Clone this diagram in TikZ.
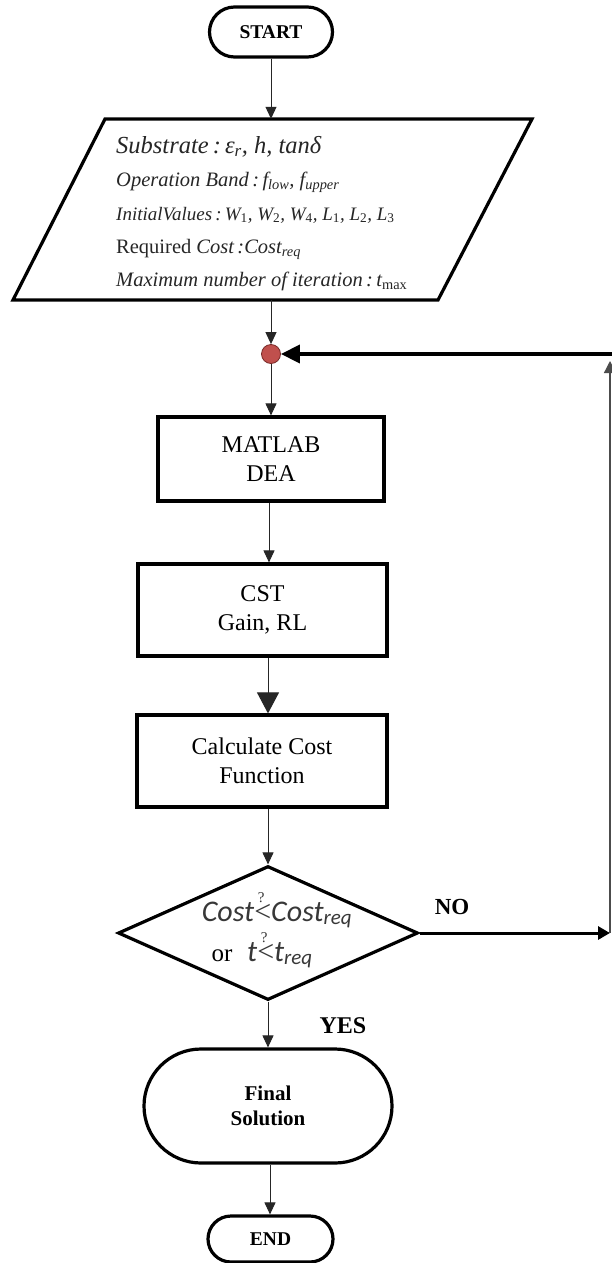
\documentclass[tikz,border=0pt]{standalone}
\usepackage{fontspec}
\setmainfont{Liberation Serif}
\newfontfamily\calib{Carlito}
\usetikzlibrary{arrows.meta,shapes.geometric}
\newcommand\sbs[1]{\textsubscript{#1}}
\newcommand\qlt{\rlap{\raisebox{0.62em}{\hspace{0.12em}\normalfont\fontsize{15}{15}\selectfont ?}}{\normalfont\fontsize{30}{30}\selectfont <}}
\definecolor{dotred}{HTML}{C0504D}
\definecolor{dotedge}{HTML}{7A2B29}
\begin{document}
\begin{tikzpicture}[x=1pt,y=-1pt,
  shapeline/.style={line width=3.2pt},
  procbox/.style={draw, shapeline, rectangle, inner sep=0pt, align=center,
    font=\fontsize{24}{29}\selectfont},
  termbox/.style={draw, shapeline, rectangle, inner sep=0pt, align=center,
    font=\bfseries\fontsize{19.5}{25}\selectfont},
  arr/.style={-{Triangle[length=12pt,width=11pt]}, line width=1pt, draw=black!85},
  bigarr/.style={-{Triangle[length=21pt,width=22pt]}, line width=1pt, draw=black!85},
  intext/.style={anchor=base west, inner sep=0pt, text=black!85,
    font=\itshape\fontsize{20.5}{20.5}\selectfont},
  lbl/.style={font=\bfseries\fontsize{23}{23}\selectfont, inner sep=0pt},
  condtext/.style={inner sep=0pt, text=black!78, font=\calib\itshape\fontsize{30}{30}\selectfont}
]
\useasboundingbox[fill=white] (0,0) rectangle (611,1263);

% terminals and boxes
\node[termbox, minimum width=123pt, minimum height=50pt, rounded corners=25pt] (start) at (271,32) {START};
\node[minimum width=330pt, minimum height=181pt, inner sep=0pt] (input) at (271,209.5) {};
\draw[shapeline, line join=miter] (105,119) -- (532,119) -- (438,300) -- (13,300) -- cycle;
\node[intext, font=\itshape\fontsize{24.5}{24.5}\selectfont] (l1) at (116,153) {Substrate\,:\,ε\sbs{r}, h, tanδ};
\node[intext] (l2) at (116,186) {Operation Band\,:\,f\sbs{low}, f\sbs{upper}};
\node[intext, font=\itshape\fontsize{19}{19}\selectfont] (l3) at (116,220) {InitialValues\,:\,W\sbs{\upshape 1}, W\sbs{\upshape 2}, W\sbs{\upshape 4}, L\sbs{\upshape 1}, L\sbs{\upshape 2}, L\sbs{\upshape 3}};
\node[intext] (l4) at (116,253) {{\upshape Required} Cost\,:Cost\sbs{req}};
\node[intext] (l5) at (116,286) {Maximum number of iteration\,:\,t\sbs{\upshape max}};

\node[circle, fill=dotred, draw=dotedge, line width=0.8pt, minimum size=19pt, inner sep=0pt] (join) at (271,354) {};

\node[procbox, minimum width=226pt, minimum height=84pt] (matlab) at (271,459) {MATLAB\\DEA};
\node[procbox, minimum width=249pt, minimum height=92pt] (cst) at (262.5,610) {CST\\Gain, RL};
\node[procbox, minimum width=250pt, minimum height=92pt] (calc) at (262,761) {Calculate Cost\\Function};

\node[diamond, draw, shapeline, minimum width=300pt, minimum height=134pt, inner sep=0pt] (dec) at (268,933) {};
\node[condtext, anchor=base] (dt1) at (277,921) {Cost\qlt Cost\sbs{req}};
\node[anchor=base, inner sep=0pt, font=\fontsize{25}{25}\selectfont] (dtor) at (222,961) {or};
\node[condtext, anchor=base west] (dt2) at (247,961) {t\qlt t\sbs{req}};

\node[termbox, font=\bfseries\fontsize{21}{25}\selectfont, minimum width=248pt, minimum height=114pt, rounded corners=57pt] (final) at (268,1106) {Final\\Solution};
\node[termbox, minimum width=125pt, minimum height=46pt, rounded corners=23pt] (end) at (270.5,1239) {END};

\node[lbl] (no) at (452,907) {NO};
\node[lbl, font=\bfseries\fontsize{24}{24}\selectfont] (yes) at (343,1026) {YES};

% connectors
\draw[arr] (start.south) -- (input.north);
\draw[arr] (input.south) -- (join.north);
\draw[arr] (join.south) -- (matlab.north);
\draw[arr] ([xshift=-2pt]matlab.south) -- ([xshift=-2pt]matlab.south |- cst.north);
\draw[bigarr] (cst.south -| dec.north) -- (calc.north -| dec.north);
\draw[arr] (calc.south -| dec.north) -- (dec.north);
\draw[arr] (dec.south) -- (final.north -| dec.south);
\draw[arr] ([xshift=2pt]final.south) -- ([xshift=2pt]final.south |- end.north);

\coordinate (fbR) at (610,933);
\coordinate (fbUp) at (610,361);
\coordinate (fbTop) at (612,354);
\draw[line width=3pt, -{Triangle[length=12pt,width=13pt]}] (dec.east) -- (fbR);
\draw[line width=1.3pt, draw=black!70, -{Triangle[length=12pt,width=12pt]}] (fbR) -- (fbUp);
\draw[line width=3.5pt, -{Triangle[length=19pt,width=18pt]}] (fbTop) -- (join.east);
\end{tikzpicture}
\end{document}
